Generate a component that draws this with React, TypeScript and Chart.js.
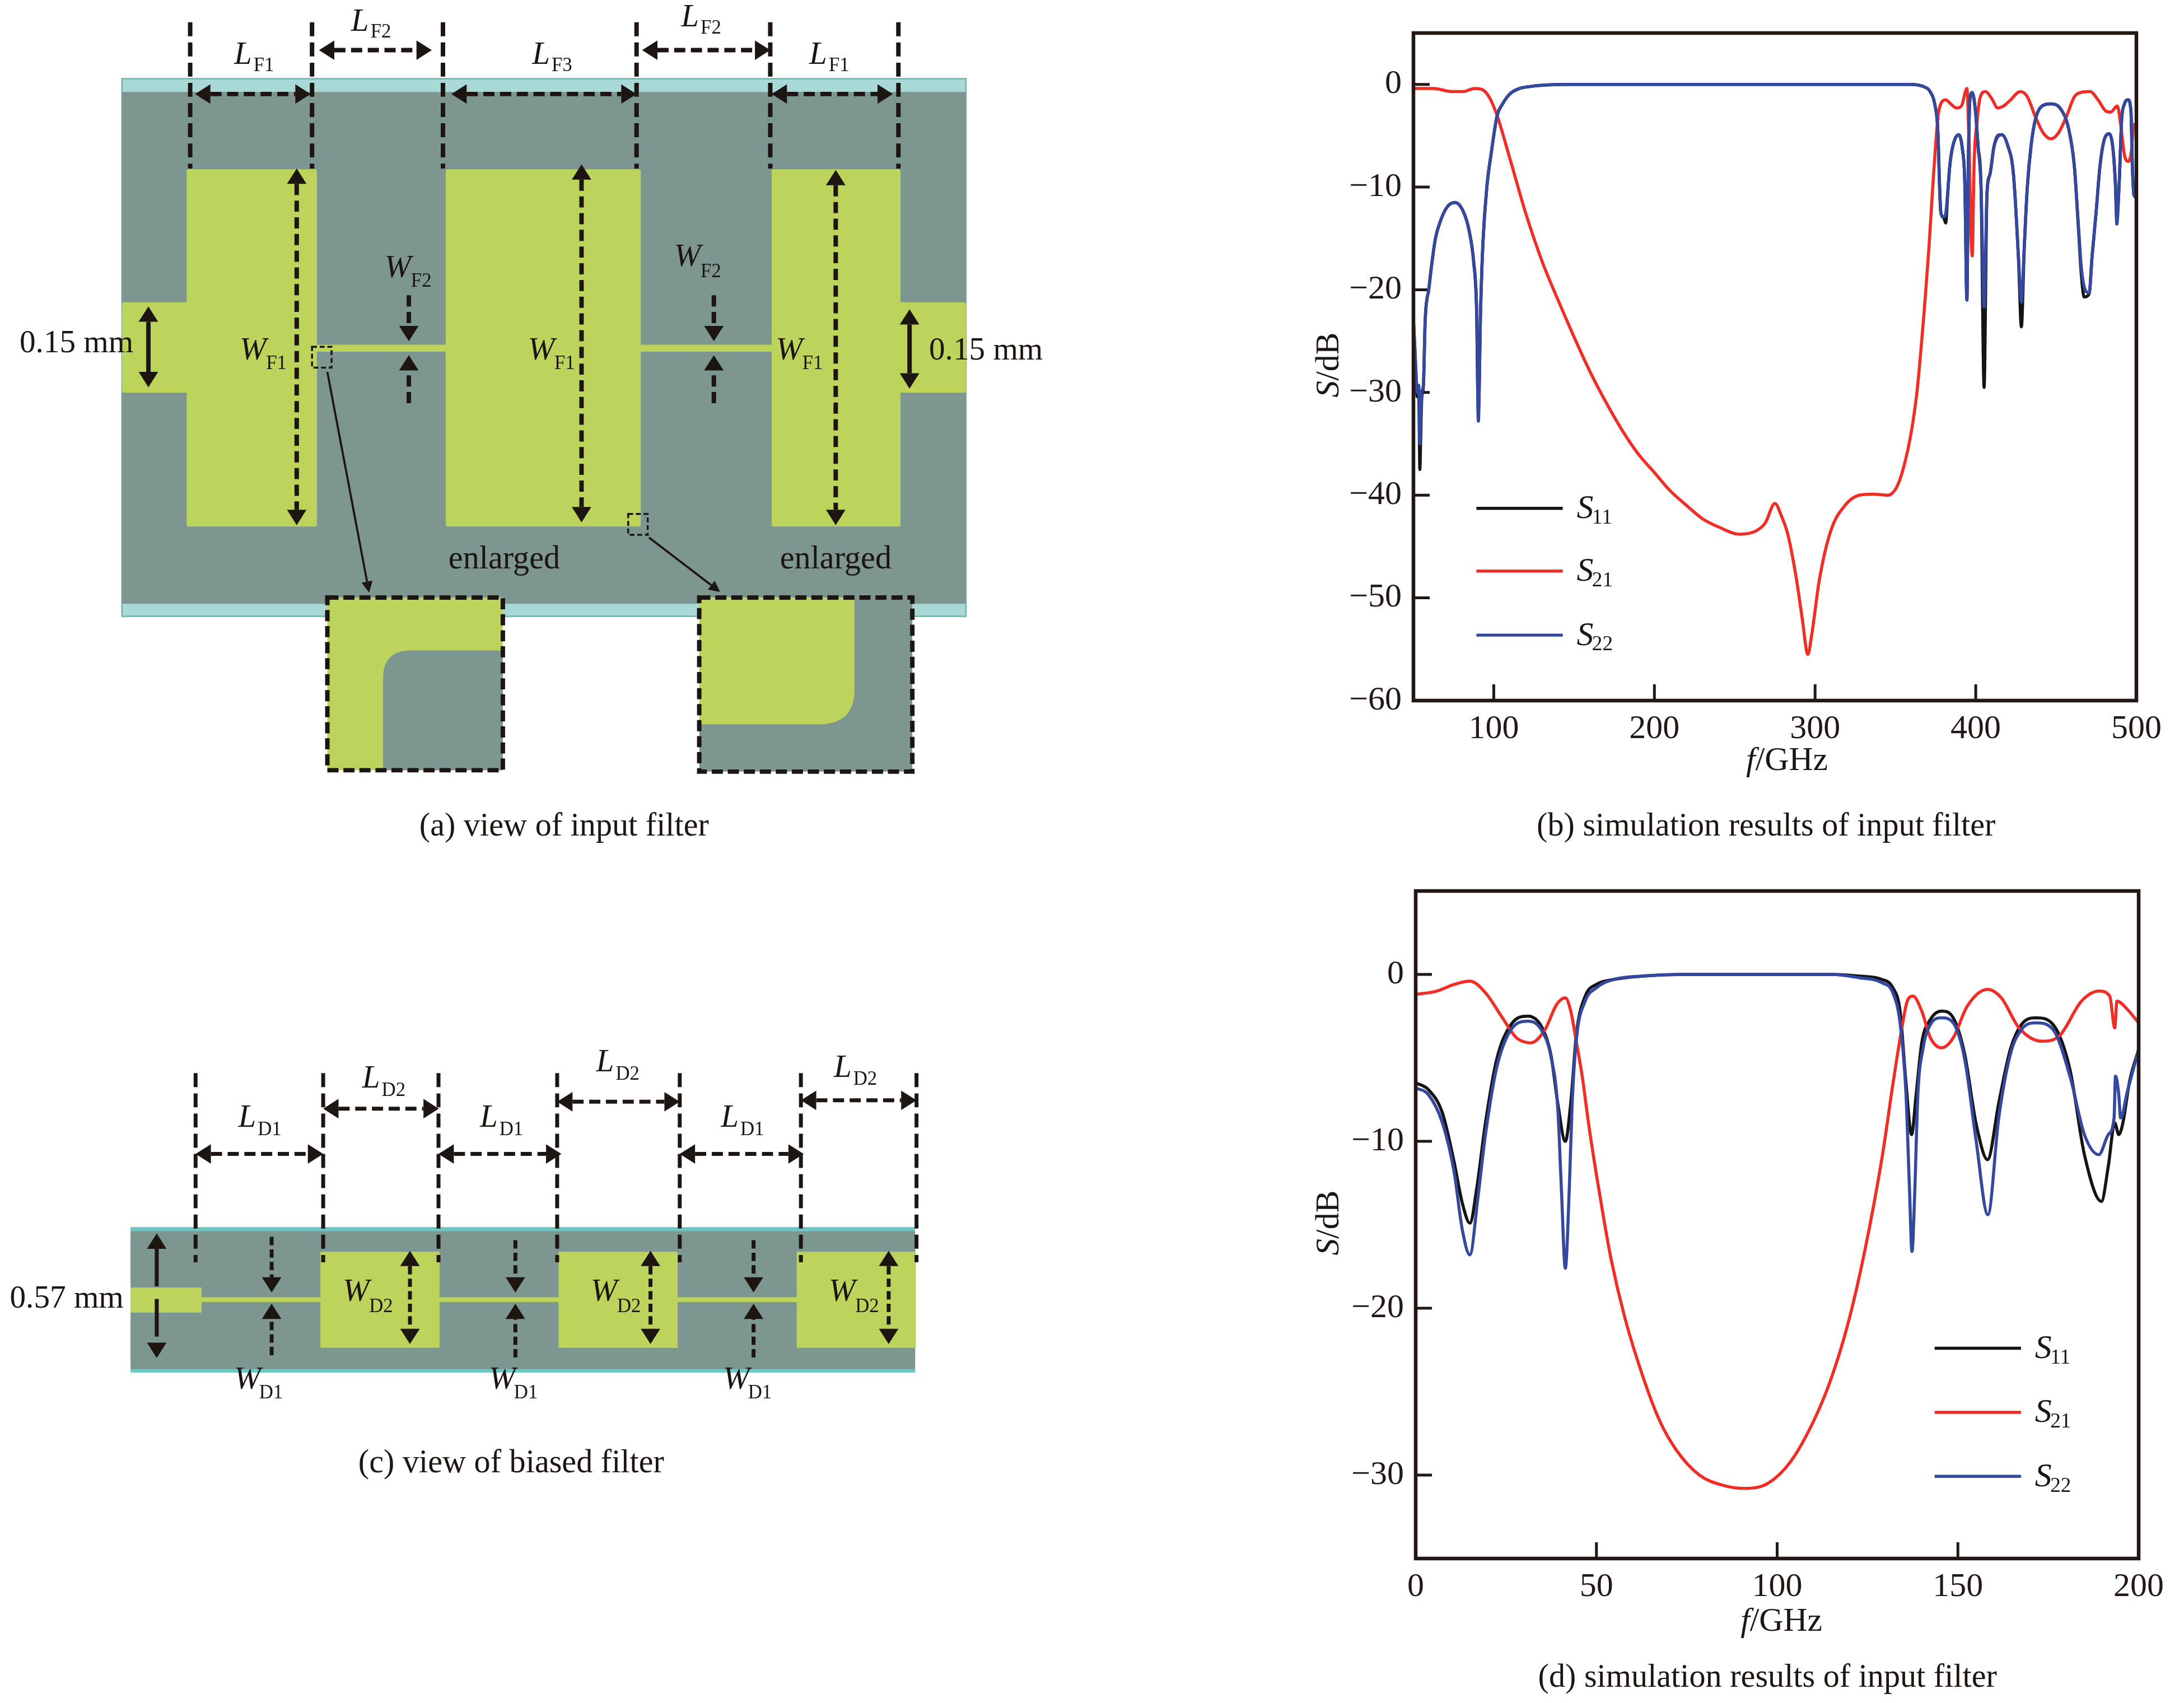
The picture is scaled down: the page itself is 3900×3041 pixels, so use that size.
import React, { useEffect, useRef } from "react";
import { Chart, registerables } from "chart.js";

Chart.register(...registerables);

// ---------- data: panel (b), input filter, 50-500 GHz ----------
const bReflF = [
  50, 51, 51.9, 52.3, 53.3, 54, 54.5, 55.2, 56.2, 57.3,
  59.6, 61.4, 63.7, 66.6, 70.7, 75.9, 81.1, 84.6, 87.5, 89.3,
  90.4, 91.8, 93.3, 95.7, 98.6, 102, 105.5, 110.2, 116, 123,
  128.8, 143.9, 200, 300, 358.7, 367.3, 372, 374.6, 376.4, 377.6,
  378.3, 380.1, 381.3, 382.5, 383.8, 385.6, 389.3, 391.7, 393.2, 394.5,
  395.4, 396.4, 397.8, 399.7, 401.5, 403.3, 405.2, 407, 408.8, 411.3,
  413.7, 416.2, 419.8, 423.5, 426.6, 428.4, 430.2, 432.1, 434.5, 437,
  440.6, 446.8, 452.9, 457.8, 461.4, 463.9, 465.7, 467.5, 470.6, 472.4,
  474.9, 477.3, 479.8, 482.8, 485.3, 486.9, 487.8, 489.3, 490.8, 492.6,
  494.8, 496.6, 497.5, 498.5, 500,
];
const bS22 = [
  -23, -26, -29, -30, -29.3, -35, -33, -30, -29.2, -23,
  -19.9, -17.5, -15, -13.4, -12, -11.5, -12.4, -14.2, -17.3, -21.7,
  -32.8, -22, -15.3, -10, -6.5, -3.1, -1.9, -0.9, -0.4, -0.2,
  -0.1, 0, 0, 0, 0, -0.2, -0.8, -2, -4.5, -10.4,
  -12.5, -12.9, -12.6, -10.6, -8, -6.1, -4.9, -6.3, -9.6, -21,
  -7.6, -1.4, -0.8, -2.4, -6.1, -10, -21.7, -10.6, -8.8, -6.1,
  -5.1, -4.9, -5.9, -8.8, -16.8, -21.2, -15.8, -10, -5.9, -3.5,
  -2.2, -1.9, -2.4, -4.3, -8, -13.7, -17.8, -19.7, -20.3, -16.8,
  -12.5, -8, -5.5, -4.8, -6.1, -9.6, -13.6, -9.6, -3.5, -1.9,
  -1.5, -2.6, -8, -10.8, -11,
];
const bS11 = [
  -23, -26.2, -29.4, -30.4, -30, -37.5, -34.5, -30.5, -29.4, -23,
  -19.9, -17.5, -15, -13.4, -12, -11.5, -12.4, -14.2, -17.3, -22,
  -32, -22, -15.3, -10, -6.5, -3.1, -1.9, -0.9, -0.4, -0.2,
  -0.1, 0, 0, 0, 0, -0.2, -0.8, -2, -4.5, -10.4,
  -12.5, -13, -13.5, -10.8, -8, -6.1, -4.9, -6.3, -9.6, -21,
  -7.6, -1.4, -0.8, -2.4, -6.1, -10, -29.5, -10.6, -8.8, -6.1,
  -5, -4.9, -5.9, -8.8, -17, -23.6, -16, -10, -5.9, -3.5,
  -2.2, -1.9, -2.4, -4.3, -8, -14, -18.5, -20.7, -20.4, -16.8,
  -12.5, -8, -5.5, -4.8, -6.1, -9.6, -13, -9.6, -3.5, -1.9,
  -1.5, -2.6, -8, -10.8, -11,
];
const bS21F = [
  50, 62.5, 74, 81, 88, 92.8, 97.4, 102, 110, 120,
  130, 140, 150, 160, 170, 180, 190, 200, 210, 220,
  230, 240, 253, 263, 269, 275, 279,
  283, 288, 292, 295.5, 298, 302.6, 309.7, 318.6, 327.5, 336,
  345.3, 354.2, 363, 368.5, 370.9, 373.4, 375.2, 376.8, 378.9, 381.3,
  384.4, 388, 391.1, 394.5, 395.6, 397.8, 399, 400.9, 402.7, 406.1,
  410, 413.7, 417.4, 421.1, 427.8, 432.1, 437, 441.9, 446.8, 451.6,
  456.5, 461.4, 465.1, 471.2, 476.1, 481, 484, 488.1, 490.2, 492.6,
  495, 496.9, 498.4, 500,
];
const bS21 = [
  -0.4, -0.4, -0.7, -0.7, -0.4, -0.5, -1.3, -3, -7.2, -12.6,
  -17.2, -21, -24.6, -28, -31, -33.7, -36, -37.8, -39.6, -41,
  -42.3, -43.1, -43.8, -43.5, -42.7, -40.8, -42,
  -43.8, -47.8, -52, -55.5, -53.5, -48.3, -43.5, -41, -40, -39.9,
  -40, -37.8, -30.5, -20.9, -15.8, -9.6, -5.5, -2.8, -1.7, -1.5,
  -1.9, -2.3, -2.1, -0.4, -4.5, -16.7, -7.6, -3.5, -1.3, -0.7,
  -1.4, -2.3, -2.1, -1.6, -0.7, -1.2, -3.1, -4.7, -5.3, -4.7,
  -3.1, -1.2, -0.8, -0.7, -1.5, -2.6, -2.7, -2.1, -3.9, -6.9,
  -7.5, -6.5, -3.9, -4,
];

// ---------- data: panel (d), 0-200 GHz ----------
const dS11F = [
  0, 3.5, 7.4, 10.6, 12.9, 15, 16.9, 19.3, 22.4, 26.4,
  31.1, 35, 37.4, 39.3, 41.4, 42.9, 44.5, 46.9, 50, 54.8,
  62.7, 75, 115, 122.7, 129, 132, 134, 135.6, 137.2, 138.4,
  140, 142.4, 145.5, 148.7, 151.9, 155, 158.2, 161.3, 164.5, 167.6,
  171.6, 176.3, 181, 185, 189.7, 191.6, 193.4, 194.5, 195.2, 195.9,
  197.5, 200,
];
const dS11 = [
  -6.5, -6.9, -8.3, -11.2, -13.7, -14.9, -12.8, -8.9, -5.1, -3,
  -2.5, -3.2, -4.8, -7.7, -10, -7.7, -3.5, -1.3, -0.6, -0.3,
  -0.1, 0, 0, -0.1, -0.3, -0.8, -2.2, -6.4, -9.6, -7.3,
  -4.1, -2.7, -2.2, -2.6, -4.8, -8.9, -11.1, -7.7, -4.5, -3,
  -2.6, -3, -5.7, -10.8, -13.6, -11.5, -8.9, -9.6, -9.3, -8.6,
  -6.4, -4.5,
];
const dS22F = [
  0, 3.5, 7.4, 10.6, 12.9, 15, 17.2, 19.3, 22.4, 26.4,
  31.1, 35, 37.4, 39.3, 40.3, 41.4, 42.5, 43.3, 44.5, 46.9,
  50, 54.8, 62.7, 75, 115, 122.7, 129, 132, 134, 135.6,
  136.6, 137.3, 138.1, 138.9, 140.3, 142.4, 145.5, 148.7, 151.9, 155,
  158.3, 161.3, 164.5, 167.6, 171.6, 176.3, 181, 185, 189, 191.6,
  193.2, 193.6, 194.5, 195, 196.9, 200,
];
const dS22 = [
  -6.8, -7.2, -8.9, -11.8, -15.3, -16.8, -13.4, -9.6, -5.6, -3.3,
  -2.8, -3.4, -4.9, -8, -12.8, -17.6, -12.8, -7.7, -3.8, -1.6,
  -0.8, -0.3, -0.1, 0, 0, -0.2, -0.5, -1.1, -2.9, -7,
  -12.8, -16.6, -12.8, -7.3, -4.5, -3, -2.6, -2.9, -5.1, -9.9,
  -14.4, -8.6, -4.8, -3.3, -2.9, -3.3, -6.1, -9.6, -10.8, -9.6,
  -8.6, -6.1, -7.2, -8.6, -7, -4.5,
];
const dS21F = [
  0, 5.8, 10.6, 15, 19.3, 24, 27.9, 31.9, 35.8, 39,
  41.4, 42.9, 44.5, 46, 48, 50, 52, 54, 57.9, 62.7,
  67.4, 72.1, 78.5, 84.8, 91, 97.4, 103.7, 110, 114.8, 119.5,
  124.2, 129, 132, 134.5, 136, 137.6, 140, 142.4, 145.5, 148.7,
  152.6, 158.2, 162, 166.9, 173.2, 178, 184.2, 189, 192, 193.4,
  194, 196.9, 200,
];
const dS21 = [
  -1.2, -1, -0.6, -0.4, -1.1, -2.6, -3.8, -4.1, -3.3, -1.8,
  -1.4, -2.2, -4.1, -6, -9.2, -12, -14.6, -17, -20.6, -24,
  -26.7, -28.5, -30, -30.6, -30.8, -30.5, -29.2, -26.8, -24.3, -21,
  -16.6, -11, -6.6, -3.2, -1.6, -1.3, -2.2, -3.8, -4.4, -3.8,
  -1.9, -0.9, -1.4, -3.2, -4, -3.7, -1.6, -1, -1.3, -3.2,
  -1.6, -2.1, -2.9,
];

const bXTicks = [100, 200, 300, 400, 500];
const bYTicks = [0, -10, -20, -30, -40, -50, -60];
const dXTicks = [0, 50, 100, 150, 200];
const dYTicks = [0, -10, -20, -30];

const INK = "#231815";
const RED = "#EE2E27";
const BLUE = "#33489E";
const BLACK = "#141414";
const SERIF = '"Liberation Serif", serif';
const TICK_LEN = 29;

const zip = (xs: number[], ys: number[]) => xs.map((x, i) => ({ x, y: ys[i] }));

const framePlugin = {
  id: "frame",
  beforeDatasetsDraw(chart: any) {
    const { ctx, chartArea: a, scales } = chart;
    ctx.save();
    ctx.strokeStyle = INK;
    ctx.lineWidth = 5;
    ctx.beginPath();
    scales.x.ticks.forEach((t: any) => {
      const px = scales.x.getPixelForValue(t.value);
      ctx.moveTo(px, a.bottom);
      ctx.lineTo(px, a.bottom - TICK_LEN);
    });
    scales.y.ticks.forEach((t: any) => {
      const py = scales.y.getPixelForValue(t.value);
      ctx.moveTo(a.left, py);
      ctx.lineTo(a.left + TICK_LEN, py);
    });
    ctx.stroke();
    ctx.restore();
  },
  afterDatasetsDraw(chart: any) {
    const { ctx, chartArea: a } = chart;
    ctx.save();
    ctx.strokeStyle = INK;
    ctx.lineWidth = 6.5;
    ctx.strokeRect(a.left, a.top, a.right - a.left, a.bottom - a.top);
    ctx.restore();
  },
};

type Panel = {
  xMin: number; xMax: number; yMin: number; yMax: number;
  xTicks: number[]; yTicks: number[];
  axisW: number; axisH: number; top: number; right: number;
  series: { label: string; color: string; f: number[]; v: number[]; order: number }[];
};

function SParamChart({ p, style }: { p: Panel; style: React.CSSProperties }) {
  const ref = useRef<HTMLCanvasElement | null>(null);
  useEffect(() => {
    const chart = new Chart(ref.current as HTMLCanvasElement, {
      type: "line",
      data: {
        datasets: p.series.map((s) => ({
          label: s.label,
          order: s.order,
          data: zip(s.f, s.v),
          borderColor: s.color,
          borderWidth: 5.5,
          pointRadius: 0,
          cubicInterpolationMode: "monotone" as const,
          fill: false,
        })),
      },
      options: {
        responsive: false,
        animation: false,
        devicePixelRatio: 1,
        layout: { padding: { top: p.top, right: p.right, left: 0, bottom: 0 } },
        plugins: { legend: { display: false }, tooltip: { enabled: false }, title: { display: false } },
        scales: {
          x: {
            type: "linear",
            min: p.xMin,
            max: p.xMax,
            afterBuildTicks: (s: any) => { s.ticks = p.xTicks.map((value) => ({ value })); },
            afterFit: (s: any) => {
              s.height = p.axisH;
              s.paddingLeft = s.paddingRight = s.paddingTop = s.paddingBottom = 0;
            },
            border: { display: false },
            grid: { drawOnChartArea: false, drawTicks: false },
            ticks: {
              autoSkip: false, maxRotation: 0, minRotation: 0, padding: 15, color: INK,
              font: { family: SERIF, size: 60 },
              callback: (v: any) => String(v),
            },
          },
          y: {
            type: "linear",
            min: p.yMin,
            max: p.yMax,
            afterBuildTicks: (s: any) => { s.ticks = p.yTicks.map((value) => ({ value })); },
            afterFit: (s: any) => {
              s.width = p.axisW;
              s.paddingLeft = s.paddingRight = s.paddingTop = s.paddingBottom = 0;
            },
            border: { display: false },
            grid: { drawOnChartArea: false, drawTicks: false },
            ticks: {
              autoSkip: false, padding: 21, color: INK,
              font: { family: SERIF, size: 60 },
              callback: (v: any) => (v < 0 ? "\u2212" + Math.abs(v) : String(v)),
            },
          },
        },
      },
      plugins: [framePlugin],
    } as any);
    return () => chart.destroy();
  }, []);
  return <canvas ref={ref} width={style.width as number} height={style.height as number} style={{ position: "absolute", ...style }} />;
}

const panelB: Panel = {
  xMin: 50, xMax: 500, yMin: -60, yMax: 5, xTicks: bXTicks, yTicks: bYTicks,
  axisW: 194, axisH: 149, top: 59, right: 85,
  series: [
    { label: "S11", color: BLACK, f: bReflF, v: bS11, order: 3 },
    { label: "S21", color: RED, f: bS21F, v: bS21, order: 2 },
    { label: "S22", color: BLUE, f: bReflF, v: bS22, order: 1 },
  ],
};
const panelD: Panel = {
  xMin: 0, xMax: 200, yMin: -35, yMax: 5, xTicks: dXTicks, yTicks: dYTicks,
  axisW: 198, axisH: 157, top: 51, right: 81,
  series: [
    { label: "S11", color: BLACK, f: dS11F, v: dS11, order: 3 },
    { label: "S21", color: RED, f: dS21F, v: dS21, order: 2 },
    { label: "S22", color: BLUE, f: dS22F, v: dS22, order: 1 },
  ],
};

// ---------- schematic helpers (coordinates in a 1568-wide view of the page) ----------
const GREY = "#7D9790";
const LIME = "#BDD45C";
const TEAL = "#A9D9D6";
const TXT = "#1c1512";

function Arrow({ x1, y1, x2, y2, w = 3.2, hl = 11, hw = 7, dash = "8 4", start = true, end = true }: any) {
  const L = Math.hypot(x2 - x1, y2 - y1);
  const ux = (x2 - x1) / L, uy = (y2 - y1) / L;
  const head = (tx: number, ty: number, dx: number, dy: number) =>
    `${tx},${ty} ${tx - dx * hl - dy * hw},${ty - dy * hl + dx * hw} ${tx - dx * hl + dy * hw},${ty - dy * hl - dx * hw}`;
  return (
    <g>
      <line
        x1={start ? x1 + ux * hl : x1} y1={start ? y1 + uy * hl : y1}
        x2={end ? x2 - ux * hl : x2} y2={end ? y2 - uy * hl : y2}
        stroke={TXT} strokeWidth={w} strokeDasharray={dash}
      />
      {start && <polygon points={head(x1, y1, -ux, -uy)} fill={TXT} />}
      {end && <polygon points={head(x2, y2, ux, uy)} fill={TXT} />}
    </g>
  );
}

function VDash({ x, y1, y2, w = 3.2 }: any) {
  return <line x1={x} x2={x} y1={y1} y2={y2} stroke={TXT} strokeWidth={w} strokeDasharray="10 4.5" />;
}

function Lab({ x, y, m, s, dx = 14, dy = 5, size = 23, sub = 14 }: any) {
  return (
    <g fill={TXT} fontFamily={SERIF}>
      <text x={x} y={y} fontSize={size} fontStyle="italic">{m}</text>
      <text x={x + dx} y={y + dy} fontSize={sub}>{s}</text>
    </g>
  );
}

function T({ x, y, children, size = 23.4, anchor = "start" }: any) {
  return <text x={x} y={y} fontSize={size} fontFamily={SERIF} fill={TXT} textAnchor={anchor}>{children}</text>;
}

function AxisTitles({ cx, by, sx, sy }: any) {
  return (
    <g fontFamily={SERIF} fontSize={24} fill={TXT}>
      <text x={cx} y={by} textAnchor="middle"><tspan fontStyle="italic">f</tspan>/GHz</text>
      <text transform={`translate(${sx} ${sy}) rotate(-90)`} textAnchor="middle"><tspan fontStyle="italic">S</tspan>/dB</text>
    </g>
  );
}

function LegendItem({ x, y, color, name, w = 2.2 }: any) {
  return (
    <g>
      <line x1={x} x2={x + 62} y1={y} y2={y} stroke={color} strokeWidth={w} />
      <Lab x={x + 72} y={y + 7} m="S" s={name} dx={11} dy={4} size={24} sub={15} />
    </g>
  );
}

function PanelA() {
  const ends = [136.5, 224, 318, 457, 553, 645];
  return (
    <g>
      <rect x={87.5} y={56.5} width={606} height={386} fill={TEAL} stroke="#6FB3AF" strokeWidth={1} />
      <rect x={87.5} y={66} width={606} height={367.5} fill={GREY} />
      <rect x={87.5} y={217} width={50} height={65} fill={LIME} rx={1.5} />
      <rect x={134} y={121.5} width={93.5} height={256.5} fill={LIME} rx={1.5} />
      <rect x={225} y={247.5} width={98} height={5} fill={LIME} />
      <rect x={320} y={121.5} width={140} height={256.5} fill={LIME} rx={1.5} />
      <rect x={458} y={247.5} width={98} height={5} fill={LIME} />
      <rect x={554} y={121.5} width={92.5} height={256.5} fill={LIME} rx={1.5} />
      <rect x={644} y={217} width={49.5} height={65} fill={LIME} rx={1.5} />
      {ends.map((x) => <VDash key={x} x={x} y1={16} y2={121} />)}
      <Arrow x1={140} y1={67.5} x2={223} y2={67.5} />
      <Arrow x1={229} y1={36} x2={310} y2={36} />
      <Arrow x1={324} y1={67.5} x2={457} y2={67.5} />
      <Arrow x1={461} y1={36} x2={553} y2={36} />
      <Arrow x1={554} y1={67.5} x2={641} y2={67.5} />
      <Arrow x1={213} y1={121} x2={213} y2={377} />
      <Arrow x1={417.5} y1={118} x2={417.5} y2={375} />
      <Arrow x1={600} y1={122} x2={600} y2={377} />
      <Arrow x1={106.5} y1={220} x2={106.5} y2={278} dash="none" />
      <Arrow x1={653} y1={222} x2={653} y2={279} dash="none" />
      <Arrow x1={293.5} y1={212} x2={293.5} y2={245} start={false} />
      <Arrow x1={293.5} y1={289.5} x2={293.5} y2={255} start={false} />
      <Arrow x1={512.5} y1={212} x2={512.5} y2={245} start={false} />
      <Arrow x1={512.5} y1={289.5} x2={512.5} y2={255} start={false} />
      <rect x={224} y={249} width={14} height={15} fill="none" stroke={TXT} strokeWidth={1.4} strokeDasharray="3.5 2" />
      <rect x={451} y={369} width={14} height={15} fill="none" stroke={TXT} strokeWidth={1.4} strokeDasharray="3.5 2" />
      <Arrow x1={235} y1={267} x2={265} y2={425.5} w={1.5} hl={8} hw={4} dash="none" start={false} />
      <Arrow x1={466} y1={386} x2={517} y2={425} w={1.5} hl={8} hw={4} dash="none" start={false} />

      <rect x={235} y={429} width={126} height={124} fill={LIME} />
      <path d="M275 553 V487 Q275 467 295 467 H361 V553 Z" fill={GREY} />
      <rect x={235} y={429} width={126} height={124} fill="none" stroke={TXT} strokeWidth={3.2} strokeDasharray="8 3.5" />
      <rect x={502} y={429} width={153} height={125} fill={GREY} />
      <path d="M502 429 H613.5 V495 Q613.5 520 588 520 H502 Z" fill={LIME} />
      <rect x={502} y={429} width={153} height={125} fill="none" stroke={TXT} strokeWidth={3.2} strokeDasharray="8 3.5" />

      <Lab x={168} y={46} m="L" s="F1" />
      <Lab x={252} y={22} m="L" s="F2" />
      <Lab x={382} y={46} m="L" s="F3" />
      <Lab x={489} y={19} m="L" s="F2" />
      <Lab x={581} y={46} m="L" s="F1" />
      <Lab x={276} y={199} m="W" s="F2" dx={19} dy={7} />
      <Lab x={484} y={191} m="W" s="F2" dx={19} dy={8} />
      <Lab x={172} y={258} m="W" s="F1" dx={19} dy={7} />
      <Lab x={379} y={258} m="W" s="F1" dx={19} dy={7} />
      <Lab x={557} y={258} m="W" s="F1" dx={19} dy={7} />
      <T x={14} y={253} size={23}>0.15 mm</T>
      <T x={667} y={258} size={23}>0.15 mm</T>
      <T x={362} y={408} anchor="middle">enlarged</T>
      <T x={600} y={408} anchor="middle">enlarged</T>
      <T x={405} y={600} anchor="middle">(a) view of input filter</T>
    </g>
  );
}

function PanelC() {
  const ends = [140.4, 232, 314.8, 400, 488, 575, 658];
  const blocks = [230, 401, 572];
  const d1 = [195, 370, 541];
  const d2 = [294.3, 467, 638];
  return (
    <g>
      <rect x={93.7} y={881} width={563.3} height={104.5} fill="#6FC4C4" />
      <rect x={93.7} y={884} width={563.3} height={99} fill={GREY} />
      <rect x={93.7} y={924.4} width={51} height={18} fill={LIME} />
      <rect x={144} y={931.4} width={430} height={3.4} fill={LIME} />
      {blocks.map((x) => <rect key={x} x={x} y={898.7} width={85.5} height={69} fill={LIME} />)}
      {ends.map((x) => <VDash key={x} x={x} y1={770.5} y2={906.3} w={2.8} />)}
      <Arrow x1={140.4} y1={828.5} x2={232} y2={828.5} w={2.8} />
      <Arrow x1={314.8} y1={828.5} x2={403} y2={828.5} w={2.8} />
      <Arrow x1={488} y1={828.5} x2={577} y2={828.5} w={2.8} />
      <Arrow x1={232} y1={796} x2={315} y2={796} w={2.8} />
      <Arrow x1={400} y1={791} x2={488} y2={791} w={2.8} />
      <Arrow x1={575} y1={790} x2={658} y2={790} w={2.8} />
      <Arrow x1={112.5} y1={885.6} x2={112.5} y2={975} w={2.8} dash="27 9" />
      {d1.map((x, i) => (
        <g key={x}>
          <Arrow x1={x} y1={i ? 890.4 : 888} x2={x} y2={928} start={false} w={2.8} dash="6 3" />
          <Arrow x1={x} y1={i ? 974.6 : 973} x2={x} y2={936} start={false} w={2.8} dash="6 3" />
        </g>
      ))}
      {d2.map((x) => <Arrow key={x} x1={x} y1={898} x2={x} y2={965} w={2.8} dash="6 3" />)}
      <Lab x={171} y={809} m="L" s="D1" dy={6} />
      <Lab x={344.5} y={809} m="L" s="D1" dy={6} />
      <Lab x={517.5} y={809} m="L" s="D1" dy={6} />
      <Lab x={260} y={781} m="L" s="D2" dy={6} />
      <Lab x={428} y={769} m="L" s="D2" dy={6} />
      <Lab x={598.6} y={773} m="L" s="D2" dy={6} />
      <Lab x={246} y={934} m="W" s="D2" dx={19} dy={8} />
      <Lab x={424} y={934} m="W" s="D2" dx={19} dy={8} />
      <Lab x={595} y={934} m="W" s="D2" dx={19} dy={8} />
      <Lab x={168} y={997} m="W" s="D1" dx={18} dy={7} />
      <Lab x={351} y={997} m="W" s="D1" dx={18} dy={7} />
      <Lab x={519} y={997} m="W" s="D1" dx={18} dy={7} />
      <T x={7} y={939} size={23}>0.57 mm</T>
      <T x={367} y={1057} anchor="middle">(c) view of biased filter</T>
    </g>
  );
}

export default function App() {
  return (
    <div style={{ position: "absolute", left: 0, top: 0, width: 3900, height: 3041, background: "#fff", overflow: "hidden" }}>
      <SParamChart p={panelB} style={{ left: 2330, top: 0, width: 1570, height: 1400 }} />
      <SParamChart p={panelD} style={{ left: 2330, top: 1540, width: 1570, height: 1400 }} />
      <svg viewBox="0 0 1568 1222.7" width={3900} height={3041} style={{ position: "absolute", left: 0, top: 0, pointerEvents: "none" }}>
        <PanelA />
        <PanelC />
        <AxisTitles cx={1283} by={553} sx={961} sy={262} />
        <AxisTitles cx={1279} by={1171} sx={961} sy={878} />
        <LegendItem x={1060} y={365} color={BLACK} name="11" />
        <LegendItem x={1060} y={410} color={RED} name="21" />
        <LegendItem x={1060} y={456} color={BLUE} name="22" />
        <LegendItem x={1389} y={968} color={BLACK} name="11" />
        <LegendItem x={1389} y={1014} color={RED} name="21" />
        <LegendItem x={1389} y={1060} color={BLUE} name="22" />
        <T x={1268} y={600} anchor="middle">(b) simulation results of input filter</T>
        <T x={1269} y={1211} anchor="middle">(d) simulation results of input filter</T>
      </svg>
    </div>
  );
}
